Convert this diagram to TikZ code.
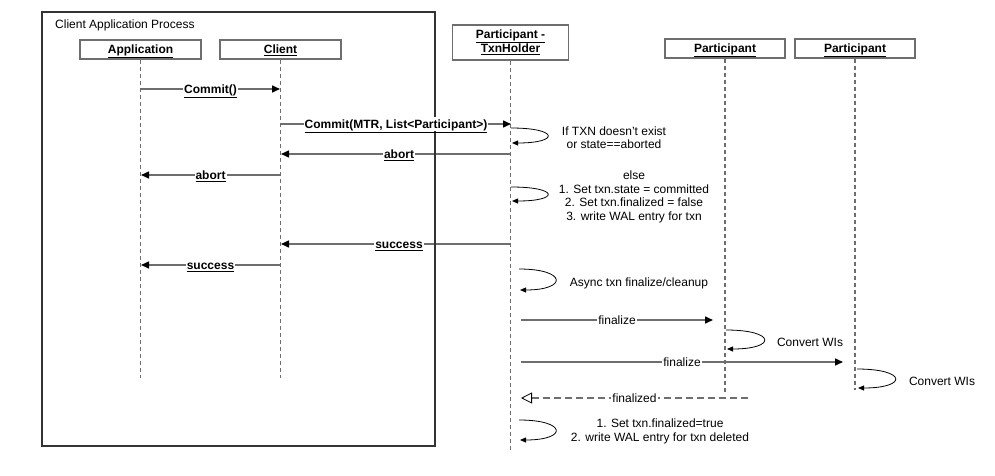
\documentclass[tikz,border=0pt]{standalone}
\usepackage{fontspec}
\setmainfont{Liberation Sans}
\usetikzlibrary{arrows.meta}
\definecolor{lc}{HTML}{6E6E6E}
\definecolor{fc}{HTML}{333333}
\begin{document}
\begin{tikzpicture}[x=1pt,y=-1pt,
 font=\fontsize{12}{13.5}\selectfont,
 actor/.style={draw=lc, line width=1.5pt, fill=white, minimum height=19pt, inner sep=1pt, font=\fontsize{12}{13}\selectfont\bfseries},
 oneline/.style={text height=10pt, text depth=1.5pt},
 life/.style={draw=lc, line width=1.3pt, dash pattern=on 4pt off 3pt},
 msg/.style={draw=lc, line width=1.5pt, -{Triangle[length=8pt,width=7pt,color=black]}},
 ret/.style={draw=lc, line width=1.3pt, dash pattern=on 7pt off 4pt, -{Triangle[open,length=11pt,width=11pt,color=black,line width=0.8pt]}},
 selfmsg/.style={draw=black, line width=0.8pt, -{Triangle[length=6pt,width=5pt]}},
 lbl/.style={fill=white, inner sep=1pt, oneline, font=\fontsize{12}{13}\selectfont\bfseries},
 plbl/.style={fill=white, inner sep=1pt},
 note/.style={align=center, inner sep=0pt}]
\useasboundingbox (0,0) rectangle (995,476);

% actors
\node[actor, oneline, minimum width=121pt] (app) at (140.5,49.5) {\underline{Application}};
\node[actor, oneline, minimum width=121pt] (cli) at (280.5,49.5) {\underline{Client}};
\node[actor, minimum width=116pt, minimum height=35pt, align=center] (txn) at (510.5,42.5) {\underline{Participant -}\\\underline{TxnHolder}};
\node[actor, oneline, minimum width=120pt] (pa) at (725,48.5) {\underline{Participant}};
\node[actor, oneline, minimum width=120pt] (pb) at (855,48.5) {\underline{Participant}};

% lifelines
\coordinate (appE) at (140.5,378);
\coordinate (cliE) at (280.5,378);
\coordinate (txnE) at (510.5,452);
\coordinate (paE) at (725,392);
\coordinate (pbE) at (855,390);
\draw[life] (app.south) -- (appE);
\draw[life] (cli.south) -- (cliE);
\draw[life] (txn.south) -- (txnE);
\draw[life] (pa.south) -- (paE);
\draw[life] (pb.south) -- (pbE);

% message end points
\coordinate (m1s) at (141,89);  \coordinate (m1e) at (280,89);
\coordinate (m2s) at (281,124); \coordinate (m2e) at (511,124);
\coordinate (m3s) at (511,154); \coordinate (m3e) at (281,154);
\coordinate (m4s) at (280,175); \coordinate (m4e) at (141,175);
\coordinate (m5s) at (511,244); \coordinate (m5e) at (281,244);
\coordinate (m6s) at (280,265); \coordinate (m6e) at (141,265);
\coordinate (m7s) at (521,320); \coordinate (m7e) at (713,320);
\coordinate (m8s) at (521,362); \coordinate (m8e) at (843,362);
\coordinate (m9s) at (748,398); \coordinate (m9e) at (521,398);

% messages crossing the frame: lines first
\draw[msg] (m2s) -- (m2e);
\draw[msg] (m3s) -- (m3e);
\draw[msg] (m5s) -- (m5e);

% frame
\draw[fc, line width=2pt] (42,12) rectangle (435,446);
\node[anchor=west, inner sep=0pt] (frameLbl) at (55,25) {Client Application Process};

% labels of crossing messages
\path (m2s) -- node[lbl] {\underline{Commit(MTR, List<Participant>)}} (m2e);
\path (m3s) -- node[lbl, xshift=3pt] {\underline{abort}} (m3e);
\path (m5s) -- node[lbl, xshift=3pt] {\underline{success}} (m5e);

% other messages
\draw[msg] (m1s) -- node[lbl] {\underline{Commit()}} (m1e);
\draw[msg] (m4s) -- node[lbl] {\underline{abort}} (m4e);
\draw[msg] (m6s) -- node[lbl] {\underline{success}} (m6e);
\draw[msg] (m7s) -- node[plbl] {finalize} (m7e);
\draw[msg] (m8s) -- node[plbl] {finalize} (m8e);
\draw[ret] (m9s) -- node[plbl] {finalized} (m9e);

% self messages
\coordinate (l1s) at (511,128); \coordinate (l1e) at (512,143);
\draw[selfmsg] (l1s) .. controls +(48,0) and +(48,0) .. (l1e);
\node[note] (n1) at (614,137.5) {If TXN doesn't exist\\or state==aborted};

\coordinate (l2s) at (511,187); \coordinate (l2e) at (512,201);
\draw[selfmsg] (l2s) .. controls +(48,0) and +(48,0) .. (l2e);
\node[note] (n2) at (634,197) {else\\1. Set txn.state = committed\\2. Set txn.finalized = false\\3. write WAL entry for txn};

\coordinate (l3s) at (519,269); \coordinate (l3e) at (520,290);
\draw[selfmsg] (l3s) .. controls +(48,0) and +(48,0) .. (l3e);
\node[note] (n3) at (639,283) {Async txn finalize/cleanup};

\coordinate (l4s) at (726,330); \coordinate (l4e) at (727,349);
\draw[selfmsg] (l4s) .. controls +(50,0) and +(50,0) .. (l4e);
\node[note] (n4) at (810,342.5) {Convert WIs};

\coordinate (l5s) at (857,369); \coordinate (l5e) at (858,388);
\draw[selfmsg] (l5s) .. controls +(50,0) and +(50,0) .. (l5e);
\node[note] (n5) at (942,381) {Convert WIs};

\coordinate (l6s) at (519,420); \coordinate (l6e) at (520,440);
\draw[selfmsg] (l6s) .. controls +(48,0) and +(48,0) .. (l6e);
\node[note] (n6) at (660,431.5) {1. Set txn.finalized=true\\2. write WAL entry for txn deleted};
\end{tikzpicture}
\end{document}
